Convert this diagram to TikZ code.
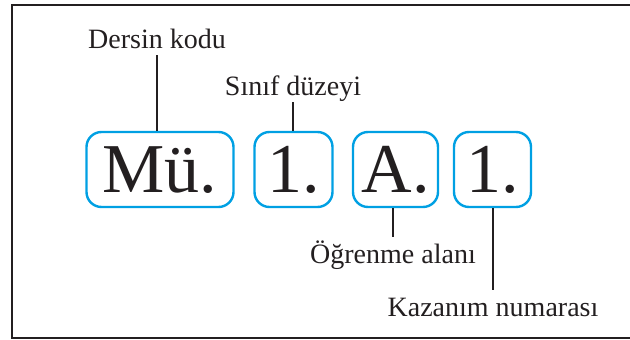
\documentclass[tikz,border=0pt]{standalone}
\usepackage{fontspec}
\setmainfont{Liberation Serif}
\definecolor{kodmavi}{RGB}{0,160,227}
\definecolor{koyu}{RGB}{35,31,32}

\begin{document}
\begin{tikzpicture}[x=1pt, y=-1pt,
        kutu/.style={draw=kodmavi, line width=2.4pt, rounded corners=15pt, minimum height=75pt,
            inner sep=0pt, text height=46pt, text depth=0pt, font=\fontsize{70}{80}\selectfont, text=koyu},
        etiket/.style={anchor=base, inner xsep=0pt, inner ysep=7pt, text height=19pt, text depth=0pt,
            font=\fontsize{28}{32}\selectfont, text=koyu},
        cizgi/.style={draw=koyu, line width=1.8pt}]
        \useasboundingbox (0, 0) rectangle (630, 340);
        \draw[koyu, line width=2pt] (640, 5) -- (12, 5) -- (12, 338) -- (640, 338);

        \node[kutu, minimum width=147pt] (mu) at (160, 169.5) {Mü.};
        \node[kutu, minimum width=78pt] (sinif) at (293.5, 169.5) {1.};
        \node[kutu, minimum width=85pt] (alan) at (395.5, 169.5) {A.};
        \node[kutu, minimum width=77pt] (kazanim) at (492.5, 169.5) {1.};

        \node[etiket] (dersin) at (157, 48) {Dersin kodu};
        \node[etiket] (duzey) at (293, 95) {Sınıf düzeyi};
        \node[etiket] (ogrenme) at (393, 263) {Öğrenme alanı};
        \node[etiket] (numara) at (493, 316) {Kazanım numarası};

        \draw[cizgi] (dersin.south) -- (dersin.south |- mu.north);
        \draw[cizgi] (duzey.south) -- (duzey.south |- sinif.north);
        \draw[cizgi] (ogrenme.north) -- (ogrenme.north |- alan.south);
        \draw[cizgi] (kazanim.south -| numara.north) -- (numara.north);
    \end{tikzpicture}
\end{document}
